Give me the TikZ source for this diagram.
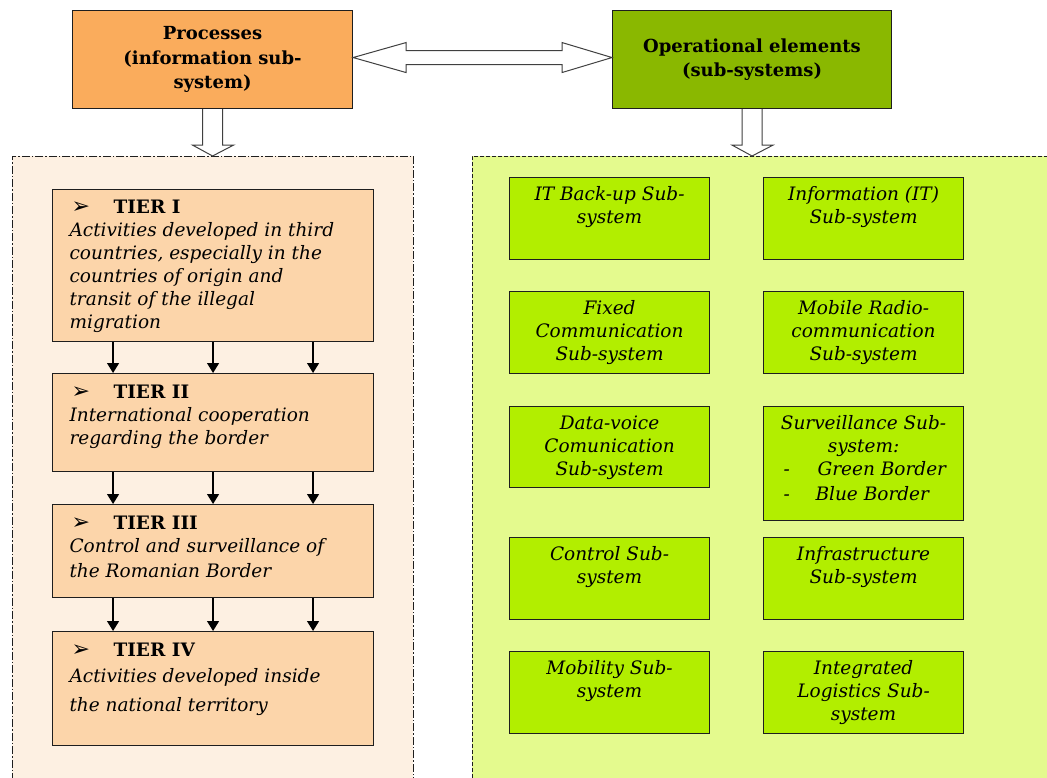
\documentclass[tikz,border=0pt]{standalone}
\usepackage{fontspec}
\setmainfont{DejaVu Serif}
\newfontfamily\symbfont{DejaVu Sans}
\usetikzlibrary{arrows.meta,calc}
\definecolor{procfill}{RGB}{250,172,92}
\definecolor{opsfill}{RGB}{138,184,0}
\definecolor{tierfill}{RGB}{252,213,170}
\definecolor{leftbg}{RGB}{253,240,226}
\definecolor{rightbg}{RGB}{228,250,142}
\definecolor{subfill}{RGB}{178,238,0}
\definecolor{edge}{RGB}{30,30,30}
\newcommand\boxtxt[5]{\parbox[c][#2][t]{#1}{\fontsize{18.5}{23}\selectfont#3\vspace*{#4}\strut#5}}
\newcommand\tierhead[1]{\hspace*{2pt}\makebox[42pt][l]{\symbfont\fontsize{22}{23}\selectfont ➢}\textbf{#1}}
\tikzset{
  titlebox/.style={draw=edge, line width=1.1pt, anchor=north west, align=center,
    font=\fontsize{18}{24.5}\selectfont\bfseries, inner sep=0pt},
  tierbox/.style={draw=edge, line width=1.1pt, fill=tierfill, anchor=north west, inner xsep=17pt, inner ysep=0pt},
  subbox/.style={draw=edge, line width=1.1pt, fill=subfill, anchor=north west, inner xsep=3pt, inner ysep=0pt},
  leftcont/.style={draw=edge, line width=0.9pt, fill=leftbg, anchor=north west,
    dash pattern=on 8pt off 2pt on 1.5pt off 2pt, inner sep=0pt},
  rightcont/.style={draw=edge, line width=0.9pt, fill=rightbg, anchor=north west,
    dash pattern=on 4pt off 2pt, inner sep=0pt},
  hollow/.style={draw=edge!85, line width=1pt, fill=white, line join=miter},
  tarrow/.style={draw=black, line width=1.2pt, -{Triangle[length=10pt,width=12pt]}}
}
\begin{document}
\begin{tikzpicture}[x=1pt,y=-1pt]
\clip (0,0) rectangle (1047,778);
\fill[white] (0,0) rectangle (1047,778);

% containers
\node[leftcont, minimum width=401pt, minimum height=660pt] (leftc) at (12,156) {};
\node[rightcont, minimum width=600pt, minimum height=660pt] (rightc) at (472,156) {};

% title boxes
\node[titlebox, fill=procfill, minimum width=280pt, minimum height=98pt] (proc) at (72,10)
  {Processes\\(information sub-\\system)};
\node[titlebox, fill=opsfill, minimum width=279pt, minimum height=98pt] (ops) at (612,10)
  {Operational elements\\(sub-systems)};

% double arrow between title boxes
\coordinate (L) at ($(proc.east)+(0,-2)$);
\coordinate (R) at ($(ops.west)+(0,-2)$);
\draw[hollow] (L) -- ++(53,-15) -- ++(0,8) -- ($(R)+(-50,-7)$) -- ++(0,-8) -- (R)
  -- ++(-50,15) -- ++(0,-8) -- ($(L)+(53,7)$) -- ++(0,8) -- cycle;

% down arrows
\draw[hollow] ($(proc.south)+(-10,0)$) -- ($(proc.south)+(-10,36)$) -- ($(proc.south)+(-20,36)$)
  -- (proc.south |- leftc.north) -- ($(proc.south)+(21,36)$) -- ($(proc.south)+(10,36)$)
  -- ($(proc.south)+(10,0)$);
\draw[hollow] ($(ops.south)+(-10,0)$) -- ($(ops.south)+(-10,36)$) -- ($(ops.south)+(-20,36)$)
  -- (ops.south |- rightc.north) -- ($(ops.south)+(21,36)$) -- ($(ops.south)+(10,36)$)
  -- ($(ops.south)+(10,0)$);

% tiers
\node[tierbox] (t1) at (52,189) {\boxtxt{287pt}{152pt}{\raggedright}{8pt}{\tierhead{TIER I}\\\itshape
  Activities developed in third\\countries, especially in the\\countries of origin and\\transit of the illegal\\migration}};
\node[tierbox] (t2) at (52,373) {\boxtxt{287pt}{98pt}{\raggedright}{9pt}{\tierhead{TIER II}\\\itshape
  International cooperation\\regarding the border}};
\node[tierbox] (t3) at (52,504) {\boxtxt{287pt}{93pt}{\raggedright}{9pt}{\tierhead{TIER III}\\\itshape
  Control and surveillance of\\[2pt]the Romanian Border}};
\node[tierbox] (t4) at (52,631) {\boxtxt{287pt}{114pt}{\raggedright}{9pt}{\tierhead{TIER IV}\\[3pt]\itshape
  Activities developed inside\\[6pt]the national territory}};

\foreach \a/\b in {t1/t2,t2/t3,t3/t4}{
  \foreach \dx in {-100,0,100}{
    \draw[tarrow] ([xshift=\dx pt]\a.south) -- ([xshift=\dx pt]\b.north);
  }
}

% sub-systems
\node[subbox] (s1) at (509,177) {\boxtxt{194pt}{82pt}{\centering\itshape}{7pt}{IT Back-up Sub-\\system}};
\node[subbox] (s2) at (763,177) {\boxtxt{194pt}{82pt}{\centering\itshape}{7pt}{Information (IT)\\Sub-system}};
\node[subbox] (s3) at (509,291) {\boxtxt{194pt}{82pt}{\centering\itshape}{7pt}{Fixed\\Communication\\Sub-system}};
\node[subbox] (s4) at (763,291) {\boxtxt{194pt}{82pt}{\centering\itshape}{7pt}{Mobile Radio-\\communication\\Sub-system}};
\node[subbox] (s5) at (509,406) {\boxtxt{194pt}{81pt}{\centering\itshape}{7pt}{Data-voice\\Comunication\\Sub-system}};
\node[subbox] (s6) at (763,406) {\boxtxt{194pt}{114pt}{\centering\itshape}{7pt}{Surveillance Sub-\\system:\\
  \makebox[\linewidth][l]{\hspace*{17pt}\makebox[34pt][l]{-}Green Border}\\[2pt]
  \makebox[\linewidth][l]{\hspace*{17pt}\makebox[32pt][l]{-}Blue Border}}};
\node[subbox] (s7) at (509,537) {\boxtxt{194pt}{82pt}{\centering\itshape}{7pt}{Control Sub-\\system}};
\node[subbox] (s8) at (763,537) {\boxtxt{194pt}{82pt}{\centering\itshape}{7pt}{Infrastructure\\Sub-system}};
\node[subbox] (s9) at (509,651) {\boxtxt{194pt}{82pt}{\centering\itshape}{7pt}{Mobility Sub-\\system}};
\node[subbox] (s10) at (763,651) {\boxtxt{194pt}{82pt}{\centering\itshape}{7pt}{Integrated\\Logistics Sub-\\system}};
\end{tikzpicture}
\end{document}
